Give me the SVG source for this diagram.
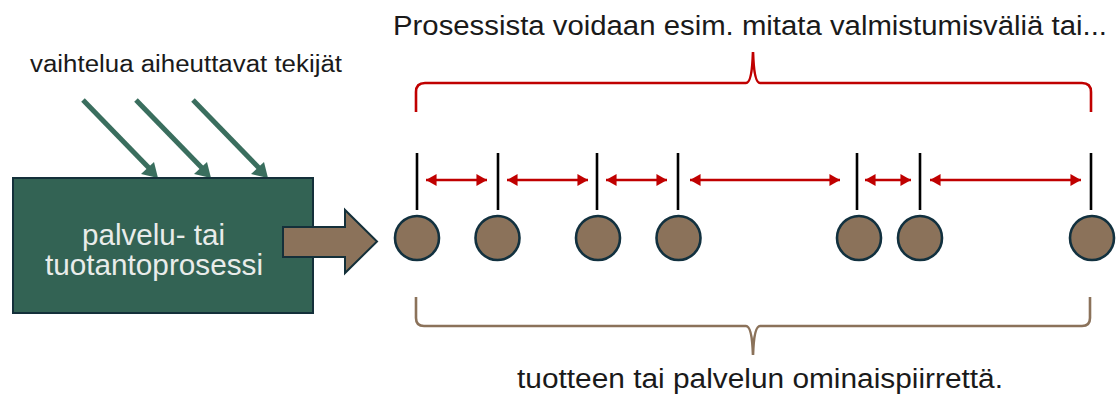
<svg xmlns="http://www.w3.org/2000/svg" width="1118" height="394" viewBox="0 0 1118 394">
  <style>
    .label { font-family: "Liberation Sans", "Noto Sans", sans-serif; fill: #1a1a1a; }
    .boxtext { font-family: "Liberation Sans", "Noto Sans", sans-serif; fill: #e9ecea; font-size: 30px; }
    .cause { stroke: #3a6e5e; stroke-width: 5; fill: none; }
    .causehead { fill: #3a6e5e; }
    .tick { stroke: #000; stroke-width: 2.6; }
    .gap { stroke: #c00000; stroke-width: 2.4; marker-start: url(#redStart); marker-end: url(#redEnd); }
    .item { fill: #8b725a; stroke: #12313f; stroke-width: 2.6; }
  </style>
  <defs>
    <marker id="redEnd" viewBox="0 0 10 10" refX="10" refY="5" markerWidth="4.4" markerHeight="5" orient="auto" markerUnits="strokeWidth" preserveAspectRatio="none">
      <path d="M0,0 L10,5 L0,10 Z" fill="#c00000"/>
    </marker>
    <marker id="redStart" viewBox="0 0 10 10" refX="0" refY="5" markerWidth="4.4" markerHeight="5" orient="auto" markerUnits="strokeWidth" preserveAspectRatio="none">
      <path d="M10,0 L0,5 L10,10 Z" fill="#c00000"/>
    </marker>
  </defs>

  <rect width="1118" height="394" fill="#ffffff"/>

  <!-- titles -->
  <text class="label" x="393" y="35" font-size="27" textLength="714" lengthAdjust="spacingAndGlyphs">Prosessista voidaan esim. mitata valmistumisväliä tai...</text>
  <text class="label" x="517" y="388" font-size="27" textLength="486" lengthAdjust="spacingAndGlyphs">tuotteen tai palvelun ominaispiirrettä.</text>

  <!-- causes of variation -->
  <g id="causes">
    <text class="label" x="30" y="72" font-size="23" textLength="312" lengthAdjust="spacingAndGlyphs">vaihtelua aiheuttavat tekijät</text>
    <line class="cause" x1="83" y1="100" x2="150" y2="169"/>
    <polygon class="causehead" points="158,178 141,174 154,162"/>
    <line class="cause" x1="136" y1="100" x2="203" y2="169"/>
    <polygon class="causehead" points="211,178 194,174 207,162"/>
    <line class="cause" x1="193" y1="100" x2="260" y2="169"/>
    <polygon class="causehead" points="268,178 251,174 264,162"/>
  </g>

  <!-- process box -->
  <g id="process">
    <rect x="13" y="178" width="300" height="135" fill="#336354" stroke="#14303a" stroke-width="2"/>
    <text class="boxtext" x="82" y="245" textLength="143" lengthAdjust="spacingAndGlyphs">palvelu- tai</text>
    <text class="boxtext" x="45" y="275" textLength="218" lengthAdjust="spacingAndGlyphs">tuotantoprosessi</text>
  </g>

  <!-- output arrow -->
  <g id="output">
    <polygon points="283,227 345,227 345,210 377,241.5 345,273 345,257 283,257" fill="#8b725a" stroke="#14303a" stroke-width="2" stroke-linejoin="miter"/>
  </g>

  <!-- top brace -->
  <g id="brace-top">
    <path d="M416,112 L416,92 Q416,83 425,83 L746,83 Q752,83 753,52 Q754,83 760,83 L1082,83 Q1091,83 1091,92 L1091,112" fill="none" stroke="#c00000" stroke-width="2.6"/>
  </g>

  <!-- bottom brace -->
  <g id="brace-bottom">
    <path d="M416,297 L416,318 Q416,326 424,326 L746,326 Q752,326 753,355 Q754,326 760,326 L1082,326 Q1090,326 1090,318 L1090,297" fill="none" stroke="#8b725a" stroke-width="2.6"/>
  </g>

  <!-- items -->
  <g id="item1"><circle class="item" cx="417" cy="238" r="22"/></g>
  <g id="item2"><circle class="item" cx="497.5" cy="238" r="22"/></g>
  <g id="item3"><circle class="item" cx="598" cy="238" r="22"/></g>
  <g id="item4"><circle class="item" cx="678.5" cy="238" r="22"/></g>
  <g id="item5"><circle class="item" cx="859" cy="238" r="22"/></g>
  <g id="item6"><circle class="item" cx="920" cy="238" r="22"/></g>
  <g id="item7"><circle class="item" cx="1092" cy="238" r="22"/></g>

  <!-- completion markers and intervals -->
  <g id="connectors">
    <line class="tick" x1="417" y1="153" x2="417" y2="210"/>
    <line class="tick" x1="498" y1="153" x2="498" y2="210"/>
    <line class="tick" x1="597" y1="153" x2="597" y2="210"/>
    <line class="tick" x1="678" y1="153" x2="678" y2="210"/>
    <line class="tick" x1="857" y1="153" x2="857" y2="210"/>
    <line class="tick" x1="920" y1="153" x2="920" y2="210"/>
    <line class="tick" x1="1091" y1="153" x2="1091" y2="210"/>

    <line class="gap" x1="426" y1="180" x2="487" y2="180"/>
    <line class="gap" x1="507" y1="180" x2="588" y2="180"/>
    <line class="gap" x1="606" y1="180" x2="667" y2="180"/>
    <line class="gap" x1="690" y1="180" x2="840" y2="180"/>
    <line class="gap" x1="865" y1="180" x2="911" y2="180"/>
    <line class="gap" x1="930" y1="180" x2="1081" y2="180"/>
  </g>
</svg>
